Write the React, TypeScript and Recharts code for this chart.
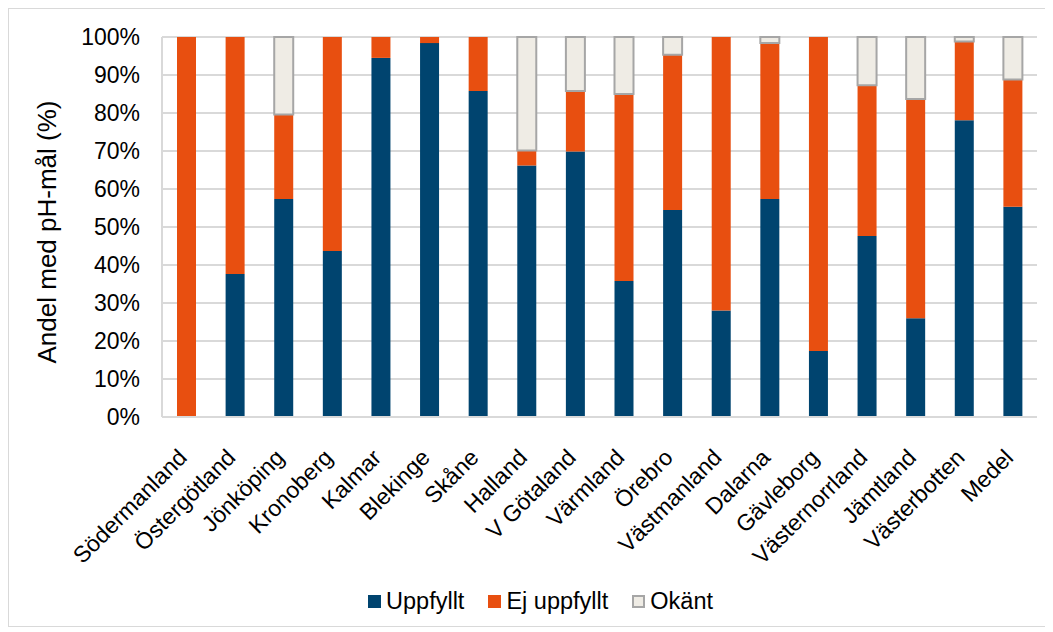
import {Bar, BarChart, CartesianGrid, Legend, XAxis, YAxis} from 'recharts';

const regions = [
    'Södermanland', 'Östergötland', 'Jönköping', 'Kronoberg', 'Kalmar', 'Blekinge',
    'Skåne', 'Halland', 'V Götaland', 'Värmland', 'Örebro', 'Västmanland',
    'Dalarna', 'Gävleborg', 'Västernorrland', 'Jämtland', 'Västerbotten', 'Medel',
];
const uppfyllt = [0, 37.6, 57.4, 43.7, 94.5, 98.4, 85.8, 66.2, 69.9, 35.8, 54.5, 28.0, 57.4, 17.4, 47.6, 26.0, 78.1, 55.3];
const ejUppfyllt = [100, 62.4, 22.2, 56.3, 5.5, 1.6, 14.2, 3.9, 15.9, 49.2, 40.8, 72.0, 41.0, 82.6, 39.7, 57.7, 20.7, 33.5];
const okant = [0, 0, 20.4, 0, 0, 0, 0, 29.9, 14.2, 15.0, 4.7, 0, 1.6, 0, 12.7, 16.3, 1.2, 11.2];
const yTicks = [0, 10, 20, 30, 40, 50, 60, 70, 80, 90, 100];

const data = regions.map((name, i) => ({
    name,
    uppfyllt: uppfyllt[i],
    ejUppfyllt: ejUppfyllt[i],
    okant: okant[i],
}));

const FONT = '"Liberation Sans", Arial, sans-serif';
const BLUE = '#00446F';
const ORANGE = '#E84F10';
const GREY_FILL = '#EFECE5';
const GREY_LINE = '#A6A6A6';
const GRID = '#D9D9D9';

const CategoryTick = ({x, y, payload}: any) => {
    const tx = x + 2;
    const ty = y + 34;
    return (
        <text x={tx} y={ty} transform={`rotate(-45, ${tx}, ${ty})`} textAnchor="end"
              fontSize={23} fontFamily={FONT} fill="#000">
            {payload.value}
        </text>
    );
};

const legendItems = [
    {label: 'Uppfyllt', fill: BLUE, stroke: BLUE},
    {label: 'Ej uppfyllt', fill: ORANGE, stroke: ORANGE},
    {label: 'Okänt', fill: GREY_FILL, stroke: GREY_LINE},
];

const ChartLegend = () => (
    <div style={{
        display: 'flex', justifyContent: 'center', alignItems: 'center', height: 50,
        paddingLeft: 35, fontFamily: FONT, fontSize: 23.5
    }}>
        {legendItems.map((item, i) => (
            <div key={item.label} style={{display: 'flex', alignItems: 'center', marginLeft: i === 0 ? 0 : 24}}>
                <span style={{
                    width: 13, height: 13, background: item.fill, boxSizing: 'border-box',
                    border: `2px solid ${item.stroke}`, marginRight: 5, display: 'inline-block'
                }}/>
                <span>{item.label}</span>
            </div>
        ))}
    </div>
);

const YLabel = () => (
    <text x={47} y={223} transform="rotate(-90, 47, 223)" textAnchor="middle"
          fontSize={26} fontFamily={FONT} fill="#000">
        Andel med pH-mål (%)
    </text>
);

export default function App() {
    return (
        <div style={{width: 1038, height: 619, border: `1px solid ${GRID}`, boxSizing: 'border-box', background: '#fff'}}>
            <BarChart width={1036} height={617} data={data} barSize={19}
                      margin={{top: 28, right: 8, left: 0, bottom: 0}}>
                <CartesianGrid vertical={false} stroke={GRID} strokeWidth={2}/>
                <XAxis dataKey="name" interval={0} height={159} tickLine={false}
                       axisLine={{stroke: GRID, strokeWidth: 2}} tick={<CategoryTick/>}/>
                <YAxis width={153} domain={[0, 100]} ticks={yTicks} tickFormatter={(v) => `${v}%`}
                       tickLine={false} tickSize={0} tickMargin={22}
                       axisLine={{stroke: GRID, strokeWidth: 2}}
                       tick={{fontSize: 23, fontFamily: FONT, fill: '#000'}}
                       label={{content: <YLabel/>}}/>
                <Legend verticalAlign="bottom" height={50} content={<ChartLegend/>}/>
                <Bar dataKey="uppfyllt" stackId="a" fill={BLUE} isAnimationActive={false}/>
                <Bar dataKey="ejUppfyllt" stackId="a" fill={ORANGE} isAnimationActive={false}/>
                <Bar dataKey="okant" stackId="a" fill={GREY_FILL} stroke={GREY_LINE} strokeWidth={2}
                     isAnimationActive={false}/>
            </BarChart>
        </div>
    );
}
